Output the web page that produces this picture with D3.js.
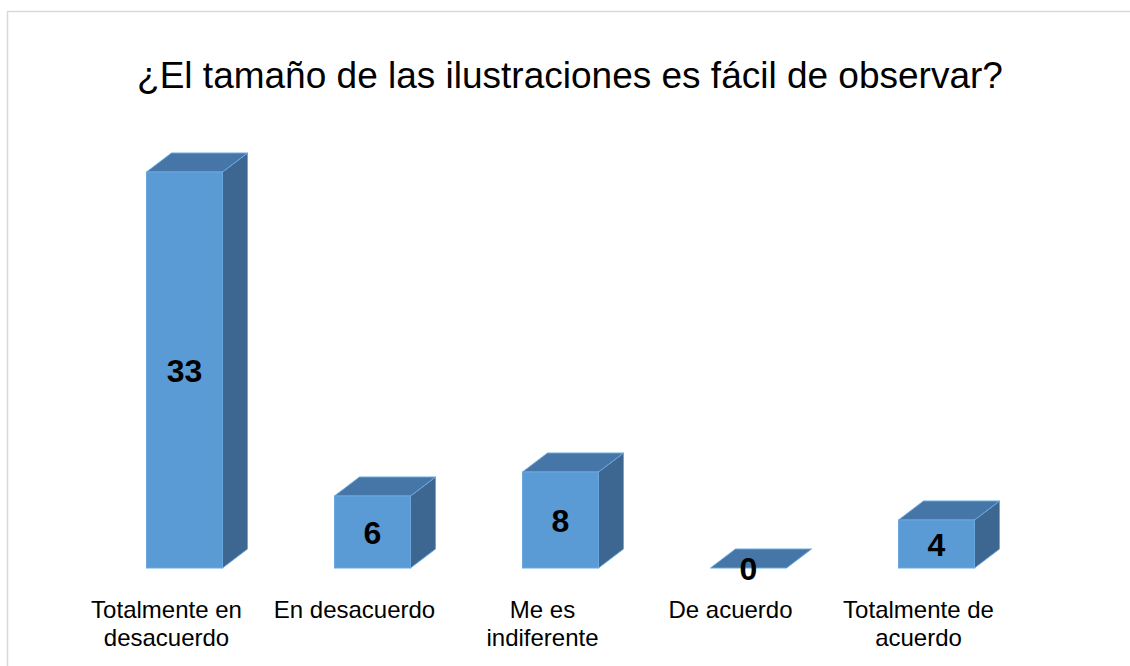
<!DOCTYPE html>
<html>
<head>
<meta charset="utf-8">
<script src="https://cdn.jsdelivr.net/npm/d3@7/dist/d3.min.js"></script>
<style>
  html, body { margin: 0; padding: 0; background: #fff; }
  svg { display: block; font-family: "Liberation Sans", Arial, sans-serif; }
</style>
</head>
<body>
<svg id="chart" width="1130" height="666"></svg>
<script>
// Survey answers and counts
const categories = [
  "Totalmente en desacuerdo",
  "En desacuerdo",
  "Me es indiferente",
  "De acuerdo",
  "Totalmente de acuerdo"
];
const categoryLines = [
  ["Totalmente en", "desacuerdo"],
  ["En desacuerdo"],
  ["Me es", "indiferente"],
  ["De acuerdo"],
  ["Totalmente de", "acuerdo"]
];
const values = [33, 6, 8, 0, 4];
const title = "¿El tamaño de las ilustraciones es fácil de observar?";

const svg = d3.select("#chart");
const W = 1130, H = 666;

// Chart frame (only top and left edges fall inside the view)
svg.append("rect")
  .attr("x", 7.5).attr("y", 11.5)
  .attr("width", W + 20).attr("height", H + 20)
  .attr("fill", "#fff")
  .attr("stroke", "#d9d9d9")
  .attr("stroke-width", 1.5);

svg.append("text")
  .attr("x", 570).attr("y", 88)
  .attr("text-anchor", "middle")
  .attr("font-size", 37)
  .attr("fill", "#000")
  .text(title);

// Scales
const x = d3.scalePoint()
  .domain(categories)
  .range([184.5, 936.5]);
const y = d3.scaleLinear()
  .domain([0, 35])
  .range([568, 148]);

const barW = 76;         // front face width
const dx = 25, dy = -19; // depth offset of the 3-D extrusion

const front = "#5b9bd5", topC = "#4676a8", side = "#3d6791", edge = "#6aa8df";

const bars = svg.append("g").selectAll("g")
  .data(categories.map((c, i) => ({ c, v: values[i], i })))
  .join("g");

// right side face
bars.filter(d => d.v > 0).append("path")
  .attr("d", d => {
    const x1 = x(d.c) + barW / 2, yt = y(d.v), yb = y(0);
    return `M${x1},${yt}L${x1 + dx},${yt + dy}L${x1 + dx},${yb + dy}L${x1},${yb}Z`;
  })
  .attr("fill", side)
  .attr("stroke", edge).attr("stroke-width", 1).attr("stroke-linejoin", "round");

// top face
bars.append("path")
  .attr("d", d => {
    const x0 = x(d.c) - barW / 2, x1 = x(d.c) + barW / 2, yt = y(d.v);
    return `M${x0},${yt}L${x0 + dx},${yt + dy}L${x1 + dx},${yt + dy}L${x1},${yt}Z`;
  })
  .attr("fill", topC)
  .attr("stroke", edge).attr("stroke-width", 1).attr("stroke-linejoin", "round");

// front face
bars.filter(d => d.v > 0).append("rect")
  .attr("x", d => x(d.c) - barW / 2)
  .attr("y", d => y(d.v))
  .attr("width", barW)
  .attr("height", d => y(0) - y(d.v))
  .attr("fill", front)
  .attr("stroke", edge).attr("stroke-width", 1);

// value labels
bars.append("text")
  .attr("x", d => x(d.c))
  .attr("y", d => (y(d.v) + y(0)) / 2)
  .attr("dy", "0.36em")
  .attr("text-anchor", "middle")
  .attr("font-size", 32)
  .attr("font-weight", "bold")
  .attr("fill", "#000")
  .text(d => d.v);

// category labels
const labels = svg.append("g").selectAll("text")
  .data(categories)
  .join("text")
  .attr("x", d => x(d) - 18)
  .attr("y", 618)
  .attr("text-anchor", "middle")
  .attr("font-size", 24)
  .attr("fill", "#000");
labels.selectAll("tspan")
  .data((d, i) => categoryLines[i].map(l => ({ l, x: x(d) - 18 })))
  .join("tspan")
  .attr("x", t => t.x)
  .attr("dy", (t, j) => j === 0 ? 0 : 27.5)
  .text(t => t.l);
</script>
</body>
</html>
